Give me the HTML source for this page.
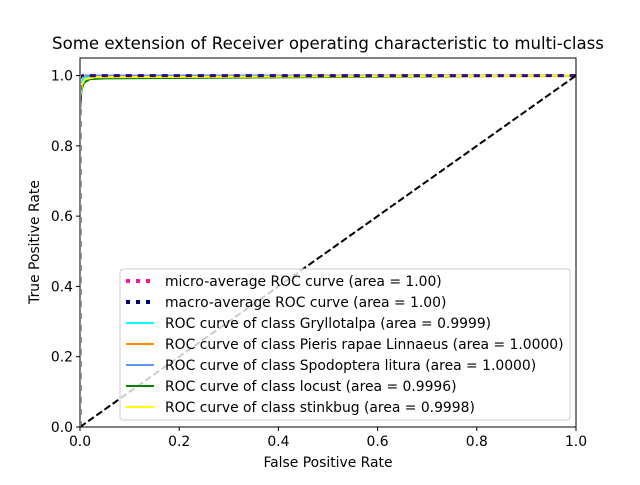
<!DOCTYPE html>
<html><head><meta charset="utf-8"><style>
body{margin:0;background:#fff}
svg text{font-family:"DejaVu Sans","Liberation Sans",sans-serif;fill:#000}
</style></head><body>
<svg id="chart" width="640" height="480" viewBox="0 0 640 480" xmlns="http://www.w3.org/2000/svg">
<rect width="640" height="480" fill="#fff"/>
<g id="plot"></g>
</svg>
<script>
const xTicks=[0,0.2,0.4,0.6,0.8,1.0];
const yTicks=[0,0.2,0.4,0.6,0.8,1.0];
const xTickLabels=["0.0","0.2","0.4","0.6","0.8","1.0"];
const yTickLabels=["0.0","0.2","0.4","0.6","0.8","1.0"];
const seriesNames=["micro-average ROC curve (area = 1.00)","macro-average ROC curve (area = 1.00)","ROC curve of class Gryllotalpa (area = 0.9999)","ROC curve of class Pieris rapae Linnaeus (area = 1.0000)","ROC curve of class Spodoptera litura (area = 1.0000)","ROC curve of class locust (area = 0.9996)","ROC curve of class stinkbug (area = 0.9998)"];
const seriesColors=["deeppink","navy","aqua","darkorange","cornflowerblue","green","yellow"];
const seriesDash=["6,6","6,6",null,null,null,null,null];
const fprMicro=[0,0,0.005,0.02,1];
const tprMicro=[0,0.995,1.0,1.0,1];
const fprMacro=[0,0,0.005,0.02,1];
const tprMacro=[0,0.995,1.0,1.0,1];
const fprGryl=[0,0,0.003,0.01,0.03,1];
const tprGryl=[0,0.96,0.985,0.995,1.0,1];
const fprPieris=[0,0,0.005,1];
const tprPieris=[0,0.99,1.0,1];
const fprSpod=[0,0,0.005,1];
const tprSpod=[0,0.99,1.0,1];
const fprLocust=[0,0,0.003,0.008,0.02,0.05,1];
const tprLocust=[0,0.9,0.96,0.98,0.99,0.992,1];
const fprStink=[0,0,0.004,0.01,0.03,1];
const tprStink=[0,0.94,0.975,0.99,0.995,1];
const diagX=[0,1], diagY=[0,1];
const X0=80,X1=576,YB=427,YT=58;
const FS=13.9;
const sx=v=>X0+v*(X1-X0);
const sy=v=>YB-v/1.05*(YB-YT);
const NS="http://www.w3.org/2000/svg";
const g=document.getElementById('plot');
function mk(t,a,txt){const e=document.createElementNS(NS,t);for(const k in a)e.setAttribute(k,a[k]);if(txt!==undefined)e.textContent=txt;g.appendChild(e);return e;}
function pts(xs,ys){return xs.map((x,i)=>sx(x).toFixed(1)+","+sy(ys[i]).toFixed(1)).join(" ");}
const series=[[fprMicro,tprMicro],[fprMacro,tprMacro],[fprGryl,tprGryl],[fprPieris,tprPieris],[fprSpod,tprSpod],[fprLocust,tprLocust],[fprStink,tprStink]];
const clip=mk('clipPath',{id:'cp'});
const cr=document.createElementNS(NS,'rect');cr.setAttribute('x',X0+1);cr.setAttribute('y',YT);cr.setAttribute('width',X1-X0-1);cr.setAttribute('height',YB-YT);clip.appendChild(cr);
[2,3,4,5,6,0,1].forEach(idx=>{
 const ss=series[idx];
 const a={points:pts(ss[0],ss[1]),fill:'none',stroke:seriesColors[idx],'stroke-width':idx<2?3:2,'clip-path':'url(#cp)'};
 if(seriesDash[idx]){a['stroke-dasharray']=seriesDash[idx];a['stroke-opacity']=0.8;}
 const p=mk('polyline',a);
 
 
});
const d=mk('polyline',{points:pts(diagX,diagY),fill:'none',stroke:'#000','stroke-width':2,'stroke-dasharray':'7,3','clip-path':'url(#cp)'});


const fr=mk('rect',{x:X0,y:YT,width:X1-X0,height:YB-YT,fill:'none',stroke:'#000','stroke-width':1});


xTicks.forEach((v,i)=>{
 mk('line',{x1:sx(v),x2:sx(v),y1:YB,y2:YB+4,stroke:'#000'});
 const t=mk('text',{x:sx(v),y:YB+19,'font-size':FS,'text-anchor':'middle'},xTickLabels[i]);
 
 
});
yTicks.forEach((v,i)=>{
 mk('line',{x1:X0-4,x2:X0,y1:sy(v),y2:sy(v),stroke:'#000'});
 const t=mk('text',{x:X0-7,y:sy(v)+5,'font-size':FS,'text-anchor':'end'},yTickLabels[i]);
 
 
});
const xt=mk('text',{x:328,y:467,'font-size':FS,'text-anchor':'middle'},'False Positive Rate');


const yt=mk('text',{x:39,y:242,'font-size':FS,'text-anchor':'middle',transform:'rotate(-90 39 242)'},'True Positive Rate');


const tt=mk('text',{x:328,y:49,'font-size':16.6,'text-anchor':'middle'},'Some extension of Receiver operating characteristic to multi-class');


const lb=mk('rect',{x:120,y:269,width:450,height:151,rx:3,fill:'#fff','fill-opacity':0.8,stroke:'#ccc'});


seriesNames.forEach((n,i)=>{
 const y=281+i*21;
 const a={x1:126,x2:154,y1:y,y2:y,stroke:seriesColors[i],'stroke-width':i<2?4:2};
 if(seriesDash[i])a['stroke-dasharray']='4,6';
 mk('line',a);
 const t=mk('text',{x:165,y:y+5,'font-size':FS},n);
 
 
});
</script>
</body></html>
